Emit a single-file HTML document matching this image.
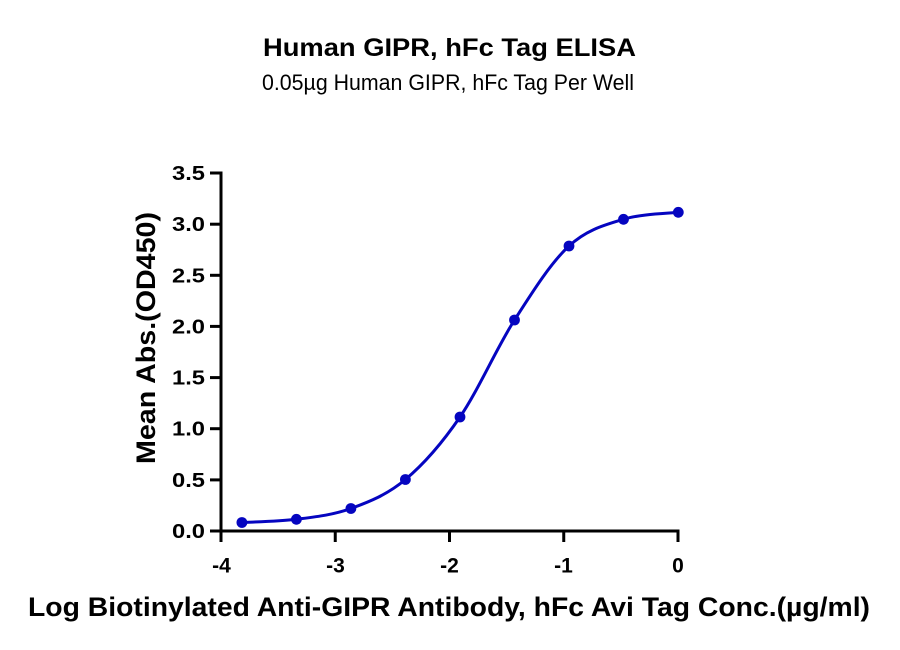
<!DOCTYPE html>
<html>
<head>
<meta charset="utf-8">
<style>
  html, body { margin: 0; padding: 0; background: #ffffff; }
  svg { display: block; }
  text { font-family: "Liberation Sans", "DejaVu Sans", sans-serif; fill: #000; }
</style>
</head>
<body>
<svg width="900" height="650" viewBox="0 0 900 650" xmlns="http://www.w3.org/2000/svg">
  <rect width="900" height="650" fill="#ffffff"/>

  <!-- Titles -->
  <text x="449.5" y="56" font-size="25" font-weight="bold" text-anchor="middle" textLength="373" lengthAdjust="spacingAndGlyphs">Human GIPR, hFc Tag ELISA</text>
  <text x="448" y="90" font-size="22" text-anchor="middle" textLength="372" lengthAdjust="spacingAndGlyphs">0.05µg Human GIPR, hFc Tag Per Well</text>

  <!-- Axes -->
  <g stroke="#000" stroke-width="3" fill="none" stroke-linecap="butt">
    <line x1="221" y1="171.5" x2="221" y2="532.5"/>
    <line x1="219.5" y1="531" x2="679.5" y2="531"/>
    <!-- y ticks -->
    <line x1="210" y1="531" x2="221" y2="531"/>
    <line x1="210" y1="479.9" x2="221" y2="479.9"/>
    <line x1="210" y1="428.7" x2="221" y2="428.7"/>
    <line x1="210" y1="377.6" x2="221" y2="377.6"/>
    <line x1="210" y1="326.4" x2="221" y2="326.4"/>
    <line x1="210" y1="275.3" x2="221" y2="275.3"/>
    <line x1="210" y1="224.2" x2="221" y2="224.2"/>
    <line x1="210" y1="173" x2="221" y2="173"/>
    <!-- x ticks -->
    <line x1="221" y1="531" x2="221" y2="542"/>
    <line x1="335.25" y1="531" x2="335.25" y2="542"/>
    <line x1="449.5" y1="531" x2="449.5" y2="542"/>
    <line x1="563.75" y1="531" x2="563.75" y2="542"/>
    <line x1="678" y1="531" x2="678" y2="542"/>
  </g>

  <!-- Y tick labels -->
  <g font-size="20.5" font-weight="bold" text-anchor="end">
    <text x="205" y="538" textLength="33" lengthAdjust="spacingAndGlyphs">0.0</text>
    <text x="205" y="486.9" textLength="33" lengthAdjust="spacingAndGlyphs">0.5</text>
    <text x="205" y="435.7" textLength="33" lengthAdjust="spacingAndGlyphs">1.0</text>
    <text x="205" y="384.6" textLength="33" lengthAdjust="spacingAndGlyphs">1.5</text>
    <text x="205" y="333.4" textLength="33" lengthAdjust="spacingAndGlyphs">2.0</text>
    <text x="205" y="282.3" textLength="33" lengthAdjust="spacingAndGlyphs">2.5</text>
    <text x="205" y="231.2" textLength="33" lengthAdjust="spacingAndGlyphs">3.0</text>
    <text x="205" y="180" textLength="33" lengthAdjust="spacingAndGlyphs">3.5</text>
  </g>

  <!-- X tick labels -->
  <g font-size="21" font-weight="bold" text-anchor="middle">
    <text x="221.5" y="572.5">-4</text>
    <text x="335.5" y="572.5">-3</text>
    <text x="449.5" y="572.5">-2</text>
    <text x="563.5" y="572.5">-1</text>
    <text x="678" y="572.5">0</text>
  </g>

  <!-- Axis titles -->
  <text transform="translate(155,338) rotate(-90)" x="0" y="0" font-size="27" font-weight="bold" text-anchor="middle" textLength="252" lengthAdjust="spacingAndGlyphs">Mean Abs.(OD450)</text>
  <text x="449" y="616" font-size="26.5" font-weight="bold" text-anchor="middle" textLength="842" lengthAdjust="spacingAndGlyphs">Log Biotinylated Anti-GIPR Antibody, hFc Avi Tag Conc.(µg/ml)</text>

  <!-- Curve -->
  <path d="M241.9,522.5 C251,521.97 278.2,521.63 296.4,519.3
           C314.6,516.97 332.7,515.13 350.9,508.5
           C369.1,501.87 387.2,494.75 405.4,479.5
           C423.6,464.25 441.8,443.58 460,417
           C478.2,390.42 496.3,348.5 514.5,320
           C532.7,291.5 550.8,262.78 569,246
           C587.2,229.22 605.3,224.92 623.5,219.3
           C641.7,213.68 668.9,213.47 678,212.3"
        fill="none" stroke="#0505c0" stroke-width="3" stroke-linejoin="round" stroke-linecap="round"/>

  <!-- Points -->
  <g fill="#0505c0">
    <circle cx="241.9" cy="522.5" r="5.4"/>
    <circle cx="296.4" cy="519.3" r="5.4"/>
    <circle cx="350.9" cy="508.5" r="5.4"/>
    <circle cx="405.4" cy="479.5" r="5.4"/>
    <circle cx="460" cy="417" r="5.4"/>
    <circle cx="514.5" cy="320" r="5.4"/>
    <circle cx="569" cy="246" r="5.4"/>
    <circle cx="623.5" cy="219.3" r="5.4"/>
    <circle cx="678.3" cy="212.3" r="5.4"/>
  </g>
</svg>
</body>
</html>
